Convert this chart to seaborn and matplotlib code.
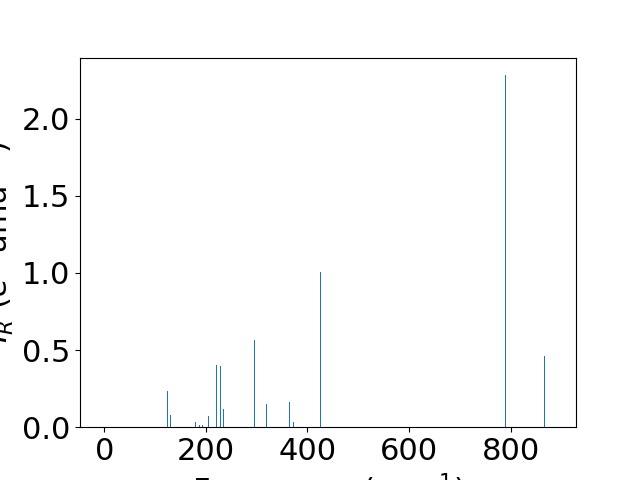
import matplotlib
matplotlib.use("Agg")
import matplotlib.pyplot as plt
import seaborn as sns
import pandas as pd

# IR-active mode frequencies (cm^-1) and intensities (e^2 amu^-1)
frequencies = [124.9, 130.0, 179.4, 187.2, 193.2, 205.0, 220.8, 228.6, 234.6,
               295.6, 319.3, 364.6, 372.5, 426.4, 790.1, 867.0]
intensities = [0.234, 0.078, 0.032, 0.013, 0.013, 0.071, 0.403, 0.396, 0.117,
               0.565, 0.149, 0.162, 0.032, 1.006, 2.282, 0.461]

df = pd.DataFrame({"freq": frequencies, "inten": intensities})

plt.rcParams["font.size"] = 22
fig, ax = plt.subplots(figsize=(6.4, 4.8), dpi=100)
ax.bar(df["freq"], df["inten"], width=2.0, color="#1f77b4")
sns.despine(ax=ax, top=False, right=False)
ax.set_xlim(-48, 929)
ax.set_ylim(0, 2.396)
ax.set_xlabel("Frequency (cm$^{-1}$)", fontsize=22)
ax.set_ylabel("$I_R$ ($e^2$ amu$^{-1}$)", fontsize=22)
ax.tick_params(labelsize=22)
fig.savefig("out.png", dpi=100)
